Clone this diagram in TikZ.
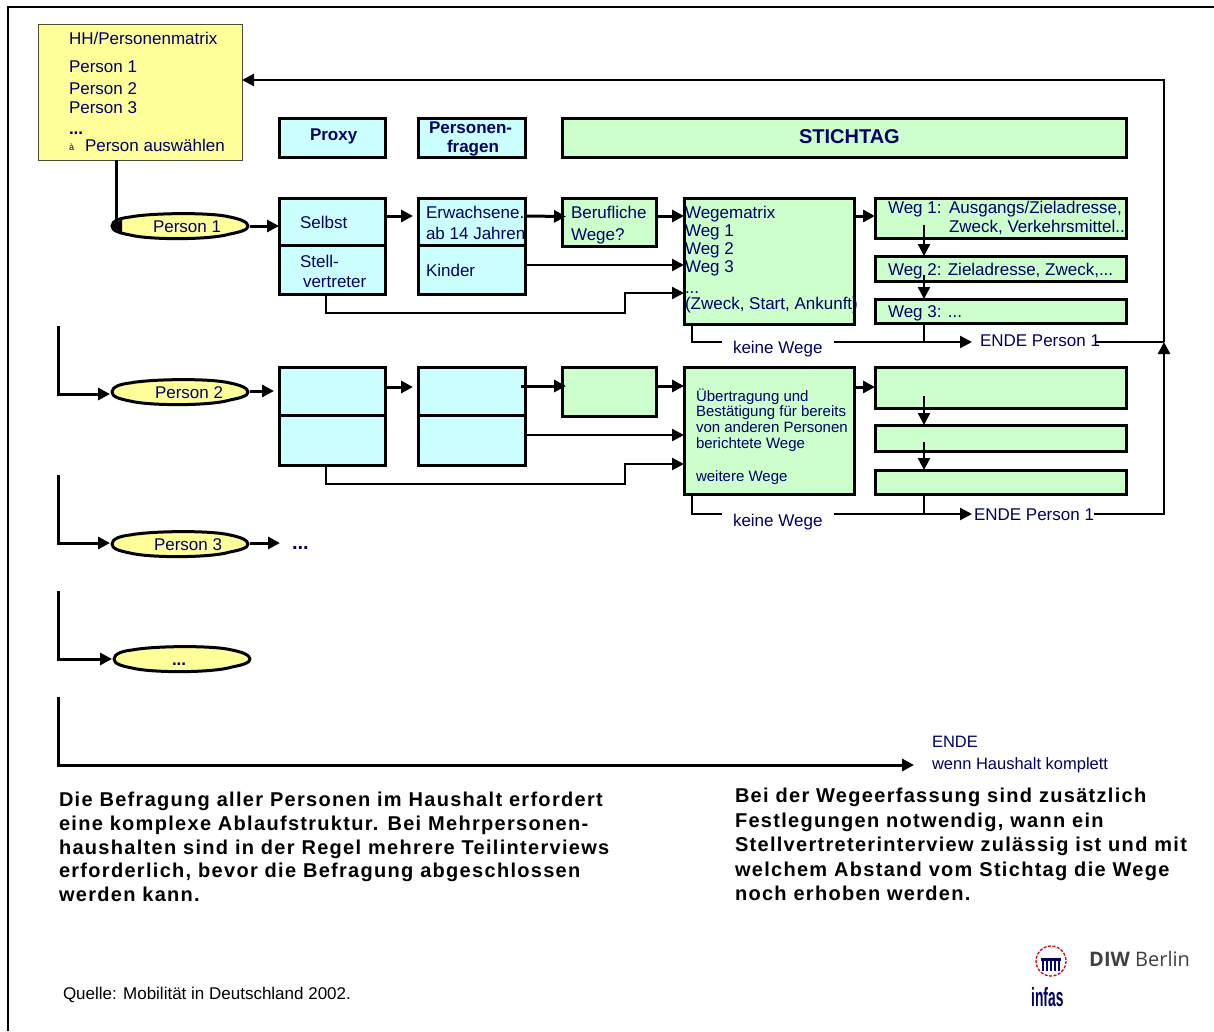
\documentclass[tikz,border=0pt]{standalone}
\usepackage{fontspec}
\setmainfont{Liberation Sans}
\newfontfamily\spacedfont[LetterSpace=6.5]{Liberation Sans}
\newfontfamily\logofont{Open Sans}
\usetikzlibrary{arrows.meta,calc}
\definecolor{navytxt}{HTML}{000066}
\definecolor{cyanbox}{HTML}{CCFFFF}
\definecolor{greenbox}{HTML}{CCFFCC}
\definecolor{yellowbox}{HTML}{FFFF99}
\tikzset{
  cbox/.style={draw=black,line width=3pt,fill=cyanbox,inner sep=0,outer sep=0},
  gbox/.style={draw=black,line width=3pt,fill=greenbox,inner sep=0,outer sep=0},
  ybox/.style={draw=black!70!yellowbox,line width=1pt,fill=yellowbox,inner sep=0,outer sep=0},
  lab/.style={anchor=base west,inner sep=0,outer sep=0,text=navytxt,font=\fontsize{17}{20}\selectfont},
  labs/.style={lab,font=\fontsize{15}{18}\selectfont},
  labb/.style={lab,font=\fontsize{17}{20}\selectfont\bfseries},
  conn/.style={line width=3pt,-{Triangle[length=12pt,width=12pt]},line join=miter},
  connt/.style={line width=2.4pt,-{Triangle[length=12pt,width=12pt]},line join=miter},
  plain/.style={line width=2.4pt,line join=miter},
  lensfill/.style={draw=black,line width=3pt,fill=yellowbox,line join=round},
  lenstxt/.style={inner sep=0,outer sep=0,minimum width=140pt,minimum height=30pt},
  para/.style={anchor=north west,inner sep=0,outer sep=0,align=left,text=black},
}
\newcommand{\bx}[6]{\node[#2,minimum width={(#5-#3)*1pt},minimum height={(#6-#4)*1pt}] (#1) at ({(#3+#5)/2},{(#4+#6)/2}) {};}
\newcommand{\tx}[5][lab]{\node[#1] (#2) at (#3,#4) {#5};}
\newcommand{\lens}[5]{%
  \path[lensfill] (#2-68,#3) .. controls (#2-68,#3-5) and (#2-60,#3-8) .. (#2-50,#3-9)
    .. controls (#2-30,#3-13) and (#2+30,#3-14) .. (#2+50,#3-9)
    .. controls (#2+60,#3-7) and (#2+68,#3-4) .. (#2+68,#3)
    .. controls (#2+68,#3+4) and (#2+60,#3+6) .. (#2+50,#3+8)
    .. controls (#2+30,#3+14) and (#2-30,#3+14) .. (#2-50,#3+9)
    .. controls (#2-60,#3+7) and (#2-68,#3+5) .. cycle;
  \node[lenstxt] (#1) at (#2,#3) {};
  \node[lab] (#1txt) at (#4,#3+6) {#5};}
\begin{document}
\begin{tikzpicture}[x=1pt,y=-1pt]
\useasboundingbox (0,0) rectangle (1214,1031);
\fill[white] (0,0) rectangle (1214,1031);
% frame
\draw[line width=2pt] (8,1031) -- (8,6.5) -- (1214,6.5);
% matrix
\bx{matrix}{ybox}{38}{24}{242}{160}
% headers
\bx{proxy}{cbox}{279}{118}{385}{157}
\bx{pfragen}{cbox}{418}{118}{525}{157}
\bx{stichtag}{gbox}{562}{118}{1126}{157}
% row 1
\bx{selbst}{cbox}{279}{198}{385}{245}
\bx{stell}{cbox}{279}{245}{385}{294}
\bx{erw}{cbox}{418}{198}{525}{245}
\bx{kinder}{cbox}{418}{245}{525}{294}
\bx{beruf}{gbox}{562}{198}{656}{246}
\bx{wmatrix}{gbox}{684}{198}{854}{324}
\bx{wega}{gbox}{875}{198}{1126}{238}
\bx{wegb}{gbox}{875}{256}{1126}{281}
\bx{wegc}{gbox}{875}{299}{1126}{323}
% row 2
\bx{selbstb}{cbox}{279}{367}{385}{415}
\bx{stellb}{cbox}{279}{415}{385}{465}
\bx{erwb}{cbox}{418}{367}{525}{415}
\bx{kinderb}{cbox}{418}{415}{525}{465}
\bx{berufb}{gbox}{562}{367}{656}{416}
\bx{wmatrixb}{gbox}{684}{367}{854}{494}
\bx{wegd}{gbox}{875}{367}{1126}{408}
\bx{wege}{gbox}{875}{425}{1126}{451}
\bx{wegf}{gbox}{875}{470}{1126}{494}
% ellipses
\lens{pa}{180}{226}{153}{Person 1}
\lens{pb}{180}{392}{155}{Person 2}
\lens{pc}{180}{544}{154}{Person 3}
\lens{pd}{182}{659}{172}{\textbf{...}}
% texts: matrix
\tx{tm0}{69}{44}{HH/Personenmatrix}
\tx{tm1}{69}{72}{Person 1}
\tx{tm2}{69}{94}{Person 2}
\tx{tm3}{69}{113}{Person 3}
\tx[labb]{tm4}{69}{134}{...}
\node[lab,font=\fontsize{9}{10}\selectfont] (tm5) at (69,150) {à};
\tx{tm6}{85}{151}{Person auswählen}
% headers
\tx[labb]{tproxy}{310}{140}{Proxy}
\tx[labb]{tpf1}{429}{133}{Personen-}
\tx[labb]{tpf2}{447}{152}{fragen}
\node[lab,font=\fontsize{20}{24}\selectfont\bfseries] (tstich) at (799,143) {STICHTAG};
% row 1 text
\tx{tsel}{300}{228}{Selbst}
\tx{tst1}{300}{267}{Stell-}
\tx{tst2}{303}{287}{vertreter}
\tx{ter1}{426}{218}{Erwachsene.}
\tx{ter2}{426}{239}{ab 14 Jahren}
\tx{tkin}{426}{276}{Kinder}
\tx{tbe1}{571}{218}{Berufliche}
\tx{tbe2}{571}{240}{Wege?}
\tx{twm0}{685}{218}{Wegematrix}
\tx{twm1}{685}{236}{Weg 1}
\tx{twm2}{685}{254}{Weg 2}
\tx{twm3}{685}{272}{Weg 3}
\tx{twm4}{685}{293}{...}
\tx{twm5}{685}{309}{(Zweck, Start, Ankunft)}
\tx{twa1}{888}{213}{Weg 1:}
\tx{twa2}{949}{213}{Ausgangs/Zieladresse,}
\tx{twa3}{949}{232}{Zweck, Verkehrsmittel...}
\tx{twb}{888}{275}{Weg 2: Zieladresse, Zweck,...}
\tx{twc}{888}{317}{Weg 3: ...}
\tx{tkw}{733}{353}{keine Wege}
\tx{tend}{980}{346}{ENDE Person 1}
% row 2 text
\tx[labs]{tu1}{696}{401}{Übertragung und}
\tx[labs]{tu2}{696}{416}{Bestätigung für bereits}
\tx[labs]{tu3}{696}{432}{von anderen Personen}
\tx[labs]{tu4}{696}{448}{berichtete Wege}
\tx[labs]{tu5}{696}{481}{weitere Wege}
\tx{tkwb}{733}{526}{keine Wege}
\tx{tendb}{974}{520}{ENDE Person 1}
% row 3
\node[lab,font=\fontsize{20}{24}\selectfont\bfseries] (tdots) at (292,549) {...};
% end
\node[lab,font=\fontsize{16.5}{20}\selectfont] (tende) at (932,747) {ENDE};
\node[lab,font=\fontsize{16.5}{20}\selectfont] (tkompl) at (932,769) {wenn Haushalt komplett};
% coordinates for free ends
\coordinate (sa) at (58,326);
\coordinate (sb) at (58,475);
\coordinate (sc) at (58,591);
\coordinate (sd) at (58,697);
\coordinate (enda) at (914,765);
\coordinate (rail) at (1164,342);
% connectors
\draw[conn] ([xshift=-126pt]matrix.south east) |- (pa.west);
\draw[conn] (pa.east) -- (selbst.west |- pa.east);
\draw[conn] ([yshift=5.5pt]selbst.east) -- ([yshift=5.5pt,xshift=-5pt]erw.west);
\draw[conn] ([yshift=5.5pt]erw.east) -- ([yshift=5.5pt,xshift=4pt]beruf.west);
\draw[conn] (beruf.east |- 0,216) -- (wmatrix.west |- 0,216);
\draw[connt] (kinder.east |- 0,265) -- (wmatrix.west |- 0,265);
\draw[connt] ([xshift=-6pt]stell.south) -- ++(0,19) -- (625,313) -- (625,293) -- (wmatrix.west |- 0,293);
\draw[conn] (wmatrix.east |- 0,216) -- (wega.west |- 0,216);
\draw[connt] (924,225) -- (wegb.north -| 924,0);
\draw[connt] (924,275) -- (wegc.north -| 924,0);
\draw[plain] (wegc.south -| 924,0) -- (924,342);
\draw[plain] (wmatrix.south -| 692,0) -- (692,342) -- (722,342);
\draw[connt] (834,342) -- (972,342);
\draw[plain] ([xshift=-4pt]tend.east |- 0,342) -- (rail);
% row 2
\draw[conn] (sa) -- (58,394) -- (pb.west |- 0,394);
\draw[conn] (pb.east |- 0,391) -- ([xshift=-5pt]selbstb.west |- 0,391);
\draw[conn] (selbstb.east |- 0,387) -- ([xshift=-5pt]erwb.west |- 0,387);
\draw[conn] ([xshift=-4pt]erwb.east |- 0,386) -- ([xshift=4pt]berufb.west |- 0,386);
\draw[conn] (berufb.east |- 0,386) -- (wmatrixb.west |- 0,386);
\draw[connt] (kinderb.east |- 0,435) -- (wmatrixb.west |- 0,435);
\draw[connt] ([xshift=-6pt]stellb.south) -- ++(0,19) -- (625,484) -- (625,464) -- (wmatrixb.west |- 0,464);
\draw[conn] (wmatrixb.east |- 0,387) -- (wegd.west |- 0,387);
\draw[connt] (924,396) -- (wege.north -| 924,0);
\draw[connt] (924,442) -- (wegf.north -| 924,0);
\draw[plain] (wegf.south -| 924,0) -- (924,514);
\draw[plain] (wmatrixb.south -| 692,0) -- (692,514) -- (722,514);
\draw[connt] (834,514) -- (972,514);
\draw[connt] (tendb.east |- 0,514) -- (1164,514) -- (rail);
\draw[connt] (rail) -- (1164,80) -- (matrix.east |- 0,80);
% rows 3, 4, end
\draw[conn] (sb) -- (58,543) -- (pc.west |- 0,543);
\draw[conn] (pc.east |- 0,543) -- (280,543);
\draw[conn] (sc) -- (58,659) -- (pd.west);
\draw[conn] (sd) -- (58,765) -- (enda);
% paragraphs
\node[para,font=\fontsize{20}{23.75}\spacedfont\bfseries\selectfont] (pleft) at (59,792) {Die Befragung aller Personen im Haushalt erfordert\\eine komplexe Ablaufstruktur.  Bei Mehrpersonen-\\haushalten sind in der Regel mehrere Teilinterviews\\erforderlich, bevor die Befragung abgeschlossen\\werden kann.};
\node[para,font=\fontsize{20}{24.5}\spacedfont\bfseries\selectfont] (pright) at (735,788) {Bei der Wegeerfassung sind zusätzlich\\Festlegungen notwendig, wann ein\\Stellvertreterinterview zulässig ist und mit\\welchem Abstand vom Stichtag die Wege\\noch erhoben werden.};
\node[lab,text=black] (quelle) at (63,999) {Quelle: Mobilität in Deutschland 2002.};
% logos
\draw[red!85!black,line width=1.3pt,dash pattern=on 3pt off 1.5pt] (1051,961) circle (15);
\foreach \i in {-8,-4,0,4,8}{\fill[navytxt] (1051+\i-1.2,958) rectangle (1051+\i+1.2,971);}
\fill[navytxt] (1041,958) rectangle (1061,961);
\node[anchor=base west,inner sep=0,text=navytxt,font=\fontsize{15}{18}\selectfont\bfseries] (infas) at (1031,1006) {\scalebox{0.92}[1.75]{infas}};
\node[anchor=base west,inner sep=0,text=black!75,font=\fontsize{20}{24}\logofont\selectfont] (diw) at (1089,966) {\textbf{DIW} Berlin};
\end{tikzpicture}
\end{document}
